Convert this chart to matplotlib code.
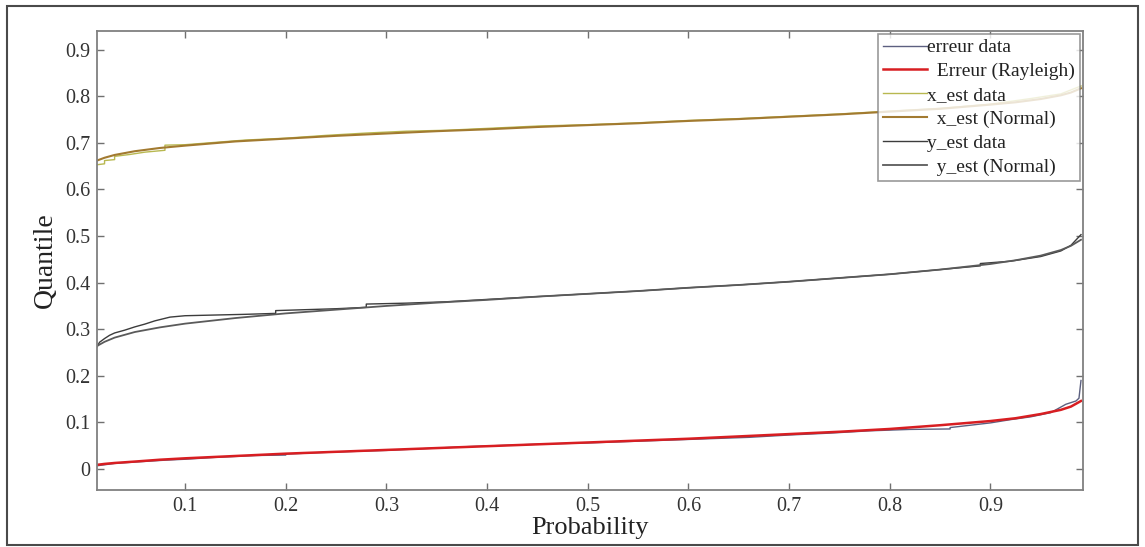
import matplotlib
matplotlib.use("Agg")
import matplotlib.pyplot as plt
from matplotlib.patches import Rectangle

# Probability grid for the fitted curves
p_fit = [0.0125, 0.02, 0.03, 0.05, 0.075, 0.1, 0.15, 0.2, 0.25, 0.3, 0.35, 0.4,
         0.45, 0.5, 0.55, 0.6, 0.65, 0.7, 0.75, 0.8, 0.85, 0.9, 0.925, 0.95,
         0.97, 0.98, 0.99]

err_rayleigh = [0.009, 0.011, 0.013, 0.016, 0.020, 0.023, 0.028, 0.033, 0.037,
                0.041, 0.045, 0.049, 0.053, 0.057, 0.061, 0.065, 0.070, 0.075,
                0.080, 0.086, 0.094, 0.103, 0.109, 0.118, 0.127, 0.134, 0.146]

x_normal = [0.662, 0.668, 0.674, 0.682, 0.689, 0.694, 0.703, 0.709, 0.715,
            0.720, 0.725, 0.729, 0.734, 0.738, 0.742, 0.747, 0.751, 0.756,
            0.761, 0.767, 0.773, 0.782, 0.787, 0.794, 0.802, 0.808, 0.817]

y_normal = [0.264, 0.273, 0.282, 0.294, 0.304, 0.312, 0.324, 0.334, 0.342,
            0.350, 0.357, 0.363, 0.370, 0.376, 0.382, 0.389, 0.395, 0.402,
            0.410, 0.418, 0.428, 0.440, 0.448, 0.458, 0.470, 0.479, 0.492]

# Empirical quantiles of the samples
p_err_data = [0.0125, 0.03, 0.05, 0.08, 0.1, 0.13, 0.17, 0.2, 0.2, 0.23, 0.27,
              0.3, 0.34, 0.38, 0.42, 0.46, 0.5, 0.54, 0.58, 0.62, 0.66, 0.7,
              0.74, 0.78, 0.82, 0.86, 0.86, 0.9, 0.92, 0.94, 0.96, 0.965,
              0.975, 0.985, 0.988, 0.99]
err_data = [0.007, 0.012, 0.015, 0.019, 0.021, 0.025, 0.029, 0.030, 0.032,
            0.035, 0.038, 0.040, 0.044, 0.048, 0.051, 0.054, 0.056, 0.059,
            0.062, 0.065, 0.068, 0.073, 0.077, 0.082, 0.085, 0.086, 0.089,
            0.099, 0.106, 0.112, 0.121, 0.127, 0.139, 0.146, 0.152, 0.190]

p_x_data = [0.0125, 0.02, 0.02, 0.03, 0.03, 0.045, 0.06, 0.08, 0.08, 0.1,
            0.13, 0.16, 0.2, 0.24, 0.28, 0.32, 0.36, 0.4, 0.45, 0.5, 0.55,
            0.6, 0.65, 0.7, 0.75, 0.8, 0.85, 0.9, 0.94, 0.97, 0.99]
x_data = [0.653, 0.655, 0.662, 0.664, 0.671, 0.675, 0.680, 0.684, 0.695,
          0.696, 0.701, 0.706, 0.710, 0.716, 0.721, 0.725, 0.727, 0.731,
          0.736, 0.739, 0.743, 0.748, 0.752, 0.757, 0.762, 0.768, 0.774,
          0.783, 0.795, 0.805, 0.822]

p_y_data = [0.0125, 0.015, 0.02, 0.025, 0.03, 0.04, 0.05, 0.06, 0.07, 0.085,
            0.1, 0.12, 0.14, 0.16, 0.19, 0.19, 0.22, 0.25, 0.28, 0.28, 0.32,
            0.36, 0.4, 0.45, 0.5, 0.55, 0.6, 0.65, 0.7, 0.75, 0.8, 0.85,
            0.89, 0.89, 0.92, 0.95, 0.97, 0.98, 0.99]
y_data = [0.262, 0.272, 0.280, 0.287, 0.292, 0.298, 0.305, 0.311, 0.318,
          0.326, 0.329, 0.330, 0.331, 0.332, 0.334, 0.340, 0.342, 0.344,
          0.347, 0.354, 0.356, 0.359, 0.364, 0.370, 0.376, 0.382, 0.389,
          0.395, 0.402, 0.410, 0.418, 0.428, 0.436, 0.441, 0.446, 0.456,
          0.468, 0.480, 0.503]

x_ticks = [0.1, 0.2, 0.3, 0.4, 0.5, 0.6, 0.7, 0.8, 0.9]
y_ticks = [0, 0.1, 0.2, 0.3, 0.4, 0.5, 0.6, 0.7, 0.8, 0.9]
y_tick_labels = ["0", "0.1", "0.2", "0.3", "0.4", "0.5", "0.6", "0.7", "0.8", "0.9"]

plt.rcParams["font.family"] = ["Liberation Serif", "DejaVu Serif"]

W, H = 1145, 547
fig = plt.figure(figsize=(W / 100, H / 100), dpi=100)
fig.patch.set_facecolor("white")
fig.patches.append(Rectangle((7 / W, 2 / H), 1131 / W, 539 / H, transform=fig.transFigure,
                             fill=False, edgecolor="#4a4a4a", linewidth=1.5))

ax = fig.add_axes([97 / W, (H - 490) / H, (1083 - 97) / W, (490 - 31) / H])

ax.plot(p_err_data, err_data, color="#5c6080", lw=1.0, label="erreur data")
ax.plot(p_fit, err_rayleigh, color="#d81e22", lw=1.8, label="  Erreur (Rayleigh)")
ax.plot(p_x_data, x_data, color="#b8b850", lw=1.0, label="x_est data")
ax.plot(p_fit, x_normal, color="#a27a30", lw=1.5, label="  x_est (Normal)")
ax.plot(p_y_data, y_data, color="#3c3c3c", lw=1.0, label="y_est data")
ax.plot(p_fit, y_normal, color="#5a5a5a", lw=1.3, label="  y_est (Normal)")

ax.set_xlim(0.0125, 0.992)
ax.set_ylim(-0.045, 0.94)
ax.set_xticks(x_ticks)
ax.set_xticklabels([f"{t:.1f}" for t in x_ticks])
ax.set_yticks(y_ticks)
ax.set_yticklabels(y_tick_labels)
ax.tick_params(direction="in", length=5, width=1, color="#707070",
               top=True, right=True, labelsize=14.5, labelcolor="#333333", pad=5)
for s in ax.spines.values():
    s.set_color("#808080")
    s.set_linewidth(1.3)

ax.set_xlabel("Probability", fontsize=19, color="#222222", labelpad=1)
ax.set_ylabel("Quantile", fontsize=20, color="#222222", labelpad=5)

leg = ax.legend(loc="upper right", fontsize=14, frameon=True, fancybox=False,
                handlelength=2.3, handletextpad=0.0, labelspacing=0.32,
                borderpad=0.25, borderaxespad=0.15)
leg.get_frame().set_edgecolor("#808080")
leg.get_frame().set_linewidth(1.2)
for t in leg.get_texts():
    t.set_color("#222222")

fig.savefig("out.png", dpi=100, facecolor="white")
